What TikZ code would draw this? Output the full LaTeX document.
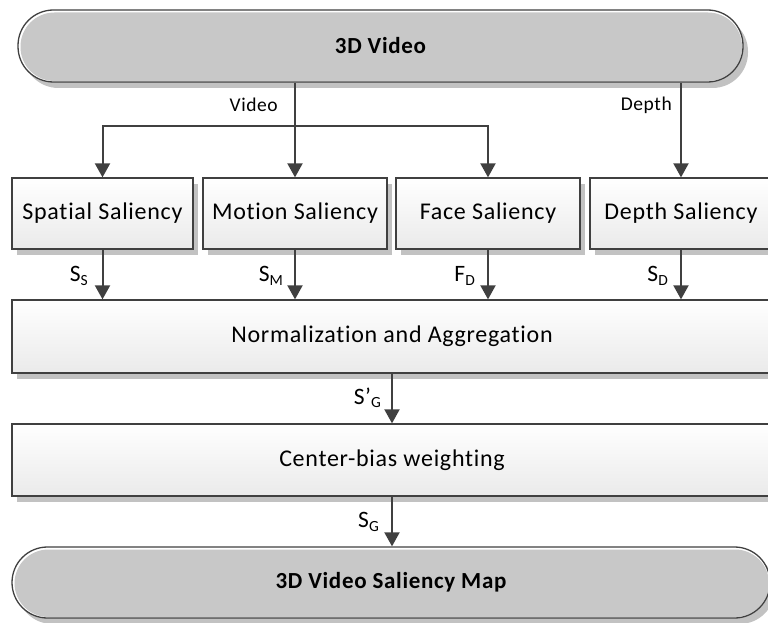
\documentclass[tikz,border=0pt]{standalone}
\usepackage{fontspec}
\setmainfont{Carlito}[Ligatures=NoCommon,LetterSpace=3]
\usetikzlibrary{arrows.meta,shadows}
\definecolor{linegray}{HTML}{404040}
\definecolor{termgray}{HTML}{C8C8C8}
\definecolor{shadowgray}{HTML}{C2C2C2}
\definecolor{boxbottom}{HTML}{EAEAEA}
\newcommand{\lblfont}{\fontsize{19.5}{22}\selectfont}
\newcommand{\subl}[2]{{\fontsize{23.5}{26}\selectfont #1}\raisebox{-3.5pt}{\fontsize{15.5}{17}\selectfont #2}}
\begin{document}
\begin{tikzpicture}[x=1pt,y=-1pt,
  conn/.style={draw=linegray,line width=2pt},
  arr/.style={conn,-{Triangle[length=14pt,width=15pt]}},
  shadowed/.style={drop shadow={shadow xshift=5pt,shadow yshift=-6pt,fill=shadowgray,opacity=1}},
  term/.style={draw=linegray,line width=1.3pt,fill=white,rounded corners=35.5pt,
    inner sep=0pt,shadowed,font=\fontsize{23}{27}\selectfont\bfseries,
    path picture={\fill[termgray,rounded corners=34pt]
      ([shift={(2.5pt,-2.5pt)}]path picture bounding box.north west) rectangle
      ([shift={(-1pt,1pt)}]path picture bounding box.south east);}},
  stepbox/.style={draw=linegray,line width=1.3pt,top color=white,bottom color=boxbottom,
    inner sep=0pt,shadowed,font=\fontsize{24}{28}\selectfont},
  lbl/.style={font=\lblfont,inner sep=0pt}]
\useasboundingbox (0,0) rectangle (768,623);
\clip (0,0) rectangle (768,623);

% terminals
\node[term,minimum width=725pt,minimum height=72pt] (top) at (380.5,46) {3D Video};
\node[term,minimum width=758pt,minimum height=71pt] (bot) at (391,582.5) {3D Video Saliency Map};

% saliency boxes
\node[stepbox,minimum width=181pt,minimum height=71pt] (sp) at (102.5,213.5) {Spatial Saliency};
\node[stepbox,minimum width=184pt,minimum height=71pt] (mo) at (295,213.5) {Motion Saliency};
\node[stepbox,minimum width=184pt,minimum height=71pt] (fa) at (488,213.5) {Face Saliency};
\node[stepbox,minimum width=182pt,minimum height=71pt] (de) at (681,213.5) {Depth Saliency};

% wide boxes
\node[stepbox,minimum width=760pt,minimum height=73pt] (norm) at (392,336.5) {Normalization and Aggregation};
\node[stepbox,minimum width=760pt,minimum height=72pt] (cb) at (392,460) {Center-bias weighting};

% top connectors
\coordinate (bry) at (0,126);
\draw[arr] (top.south -| mo.north) -- (mo.north);
\draw[arr] (bry -| mo.north) -| (sp.north);
\draw[arr] (bry -| mo.north) -| (fa.north);
\draw[arr] (top.south -| de.north) -- (de.north);
\node[lbl,anchor=east] (lvideo) at (278,105) {Video};
\node[lbl,anchor=east] (ldepth) at (672,105) {Depth};

% lower connectors
\draw[arr] (sp.south) -- (sp.south |- norm.north);
\draw[arr] (mo.south) -- (mo.south |- norm.north);
\draw[arr] (fa.south) -- (fa.south |- norm.north);
\draw[arr] (de.south) -- (de.south |- norm.north);
\draw[arr] (norm.south) -- (cb.north);
\draw[arr] (cb.south) -- (cb.south |- bot.north);

\node[lbl,anchor=east] (lss) at (88,276) {\subl{S}{S}};
\node[lbl,anchor=east] (lsm) at (283,276) {\subl{S}{M}};
\node[lbl,anchor=east] (lfd) at (475,276) {\subl{F}{D}};
\node[lbl,anchor=east] (lsd) at (668,276) {\subl{S}{D}};
\node[lbl,anchor=east] (lsg1) at (381,398) {\subl{S’}{G}};
\node[lbl,anchor=east] (lsg) at (379,522) {\subl{S}{G}};
\end{tikzpicture}
\end{document}
